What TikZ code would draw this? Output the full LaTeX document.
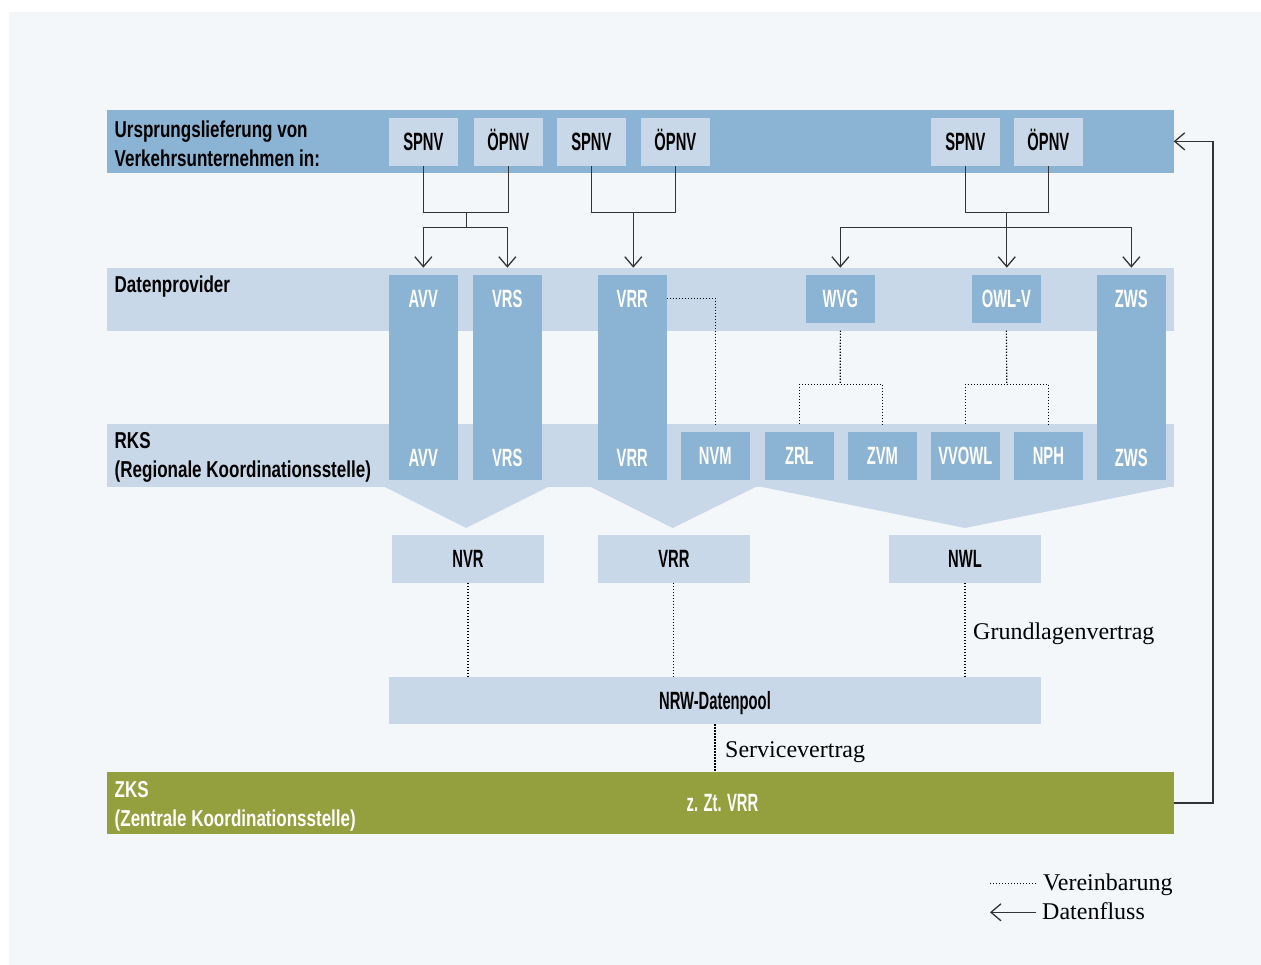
\documentclass[tikz,border=0pt]{standalone}
\usepackage{fontspec}
\usetikzlibrary{arrows.meta}
\newfontfamily\labf[FakeStretch=0.74]{Liberation Sans Bold}
\newfontfamily\capf[FakeStretch=0.59]{Liberation Sans Bold}
\newfontfamily\serf{Liberation Serif}
\definecolor{bgc}{HTML}{F3F7FA}
\definecolor{darkb}{HTML}{8BB3D3}
\definecolor{lightb}{HTML}{C9D8E8}
\definecolor{olivec}{HTML}{94A03E}
\definecolor{linec}{HTML}{333333}
\newcommand\mybox[7]{\node[#1,minimum width={#4-#2},minimum height={#5-#3}] (#7) at ({(#2+#4)/2},{(#3+#5)/2}) {#6};}
\begin{document}
\begin{tikzpicture}[x=1pt,y=-1pt,
 boxbase/.style={inner sep=0pt, outer sep=0pt, text height=18pt, text depth=0pt, font=\capf\fontsize{25pt}{25pt}\selectfont},
 dbox/.style={boxbase, fill=darkb, text=white},
 lbox/.style={boxbase, fill=lightb, text=black},
 band/.style={inner sep=0pt, outer sep=0pt},
 wlab/.style={inner sep=0pt, text height=18pt, text depth=0pt, font=\capf\fontsize{25pt}{25pt}\selectfont, text=white},
 heading/.style={inner sep=0pt, align=left, font=\labf\fontsize{23pt}{29pt}\selectfont},
 sertext/.style={inner sep=0pt, font=\serf\fontsize{24pt}{24pt}\selectfont},
 flow/.style={draw=linec, line width=1.3pt, -{Straight Barb[length=10pt,width=17pt]}},
 link/.style={draw=linec, line width=1.3pt},
 agree/.style={draw=black, line width=1.2pt, dash pattern=on 1.2pt off 1.8pt},
]
\useasboundingbox (0,0) rectangle (1261,965);
\fill[white] (0,0) rectangle (1261,965);
\fill[bgc] (9,12) rectangle (1261,965);

% bands
\mybox{band, fill=darkb}{107}{110}{1173.7}{172.7}{}{top}
\mybox{band, fill=lightb}{107}{267.7}{1173.7}{330.7}{}{dp}
\mybox{band, fill=lightb}{107}{424}{1173.7}{486.7}{}{rks}
\mybox{band, fill=olivec}{107}{772}{1173.7}{834}{}{zks}

% funnels
\fill[lightb] (383,486) -- (466,528) -- (550,486) -- cycle;
\fill[lightb] (589,486) -- (672.7,528) -- (757.7,486) -- cycle;
\fill[lightb] (757,486) -- (965,528) -- (1173.7,486) -- cycle;

% top row boxes
\mybox{lbox}{389}{118}{457.7}{165.7}{SPNV}{spnv1}
\mybox{lbox}{474}{118}{542.7}{165.7}{ÖPNV}{opnv1}
\mybox{lbox}{557}{118}{625.7}{165.7}{SPNV}{spnv2}
\mybox{lbox}{641}{118}{709.7}{165.7}{ÖPNV}{opnv2}
\mybox{lbox}{931}{118}{999.7}{165.7}{SPNV}{spnv3}
\mybox{lbox}{1014}{118}{1082.7}{165.7}{ÖPNV}{opnv3}

% tall columns
\mybox{dbox}{389}{275}{457.7}{479.7}{}{avv}
\mybox{dbox}{473}{275}{541.7}{479.7}{}{vrs}
\mybox{dbox}{598}{275}{666.7}{479.7}{}{vrr}
\mybox{dbox}{1097}{275}{1165.7}{479.7}{}{zws}
\node[wlab] (avvt) at (423.3,298.3) {AVV};
\node[wlab] (avvb) at (423.3,457) {AVV};
\node[wlab] (vrst) at (507.3,298.3) {VRS};
\node[wlab] (vrsb) at (507.3,457) {VRS};
\node[wlab] (vrrt) at (632.3,298.3) {VRR};
\node[wlab] (vrrb) at (632.3,457) {VRR};
\node[wlab] (zwst) at (1131.3,298.3) {ZWS};
\node[wlab] (zwsb) at (1131.3,457) {ZWS};

% datenprovider boxes
\mybox{dbox}{806}{275}{874.7}{322.7}{WVG}{wvg}
\mybox{dbox}{972}{275}{1040.7}{322.7}{OWL-V}{owlv}

% RKS boxes
\mybox{dbox}{681}{432}{749.7}{479.7}{NVM}{nvm}
\mybox{dbox}{765}{432}{833.7}{479.7}{ZRL}{zrl}
\mybox{dbox}{848}{432}{916.7}{479.7}{ZVM}{zvm}
\mybox{dbox}{931}{432}{999.7}{479.7}{VVOWL}{vvowl}
\mybox{dbox}{1014}{432}{1082.7}{479.7}{NPH}{nph}

% lower boxes
\mybox{lbox}{392}{535}{544}{582.7}{NVR}{nvr}
\mybox{lbox}{598}{535}{749.7}{582.7}{VRR}{vrr2}
\mybox{lbox}{889}{535}{1041}{582.7}{NWL}{nwl}
\mybox{lbox}{389}{677}{1041}{724.3}{NRW-Datenpool}{nrw}

% headings
\node[heading, anchor=north west] (h1) at (114.5,120.3) {Ursprungslieferung von\\Verkehrsunternehmen in:};
\node[heading, anchor=base west] (h2) at (114.5,293) {Datenprovider};
\node[heading, anchor=north west] (h3) at (114.5,432.6) {RKS\\(Regionale Koordinationsstelle)};
\node[heading, anchor=north west, text=white] (h4) at (114.5,781.4) {ZKS\\(Zentrale Koordinationsstelle)};
\node[wlab] (zzt) at (722.5,802.5) {z. Zt. VRR};

% serif labels
\node[sertext, anchor=base west] (grund) at (973,639) {Grundlagenvertrag};
\node[sertext, anchor=base west] (serv) at (725,757.3) {Servicevertrag};

% data flow connectors
\coordinate (j1) at (466.8,212.7);
\coordinate (j1b) at (466.8,227.5);
\draw[link] (spnv1.south) |- (j1) -| (opnv1.south);
\draw[link] (j1) -- (j1b);
\draw[flow] (j1b) -| (avv.north |- dp.north);
\draw[flow] (j1b) -| (vrs.north |- dp.north);
\coordinate (j2) at (633.3,212.7);
\draw[link] (spnv2.south) |- (j2) -| (opnv2.south);
\draw[flow] (j2) -- (j2 |- dp.north);
\coordinate (j3) at (1006.8,212.7);
\coordinate (j3b) at (1006.8,227.7);
\draw[link] (spnv3.south) |- (j3) -| (opnv3.south);
\draw[flow] (j3) -- (j3 |- dp.north);
\draw[flow] (j3b) -| (wvg.north |- dp.north);
\draw[flow] (j3b) -| (zws.north |- dp.north);
\coordinate (retx) at (1213,0);
\draw[flow] (zks.east) -- (zks.east -| retx) |- (top.east);

% agreements
\draw[agree] (vrr.east |- vrrt) -| (nvm.north |- rks.north);
\coordinate (ws) at (840.3,384.3);
\draw[agree] (wvg.south |- dp.south) -- (ws);
\draw[agree] (zrl.north |- rks.north) |- (ws) -| (zvm.north |- rks.north);
\coordinate (os) at (1006.8,384.3);
\draw[agree] (owlv.south |- dp.south) -- (os);
\draw[agree] (vvowl.north |- rks.north) |- (os) -| (nph.north |- rks.north);
\draw[agree] (nvr.south) -- (nvr.south |- nrw.north);
\draw[agree] (vrr2.south) -- (vrr2.south |- nrw.north);
\draw[agree] (nwl.south) -- (nwl.south |- nrw.north);
\draw[agree] (nrw.south) -- (nrw.south |- zks.north);

% legend
\coordinate (l1a) at (990,883.5);
\coordinate (l1b) at (1037,883.5);
\coordinate (l2a) at (1036,912.3);
\coordinate (l2b) at (990,912.3);
\draw[agree] (l1a) -- (l1b);
\draw[flow] (l2a) -- (l2b);
\node[sertext, anchor=base west] (lg1) at (1043,890) {Vereinbarung};
\node[sertext, anchor=base west] (lg2) at (1042,919.3) {Datenfluss};
\end{tikzpicture}
\end{document}
